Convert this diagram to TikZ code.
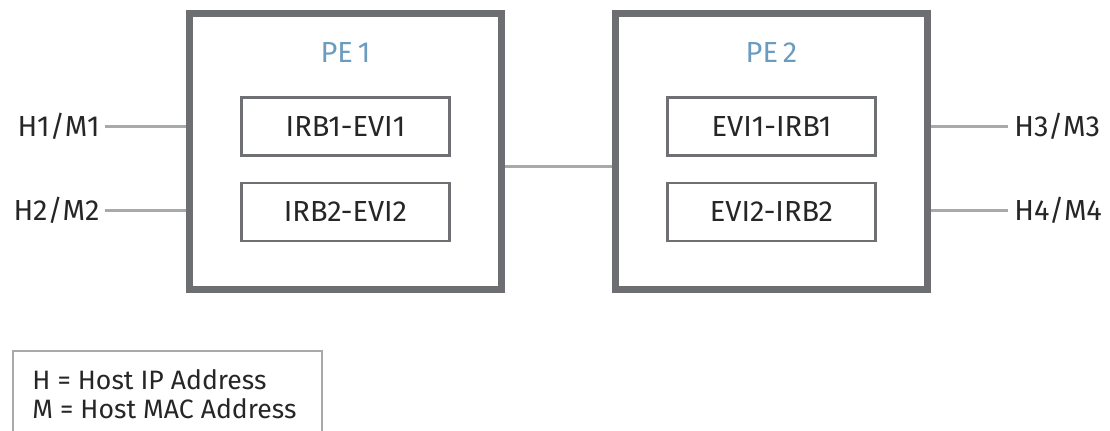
\documentclass[tikz,border=0pt]{standalone}
\usepackage{fontspec}
\setmainfont{Fira Sans}
\definecolor{pegray}{HTML}{6D6E71}
\definecolor{ingray}{HTML}{6F7073}
\definecolor{linkgray}{HTML}{A7A9AC}
\definecolor{peblue}{HTML}{6B9BBE}
\definecolor{txt}{HTML}{262626}
\begin{document}
\begin{tikzpicture}[x=0.5pt,y=-0.5pt,
  pebox/.style={draw=pegray, line width=3.5pt, minimum width=156pt, minimum height=138pt, inner sep=0pt},
  inbox/.style={draw=ingray, line width=1.25pt, minimum width=104pt, minimum height=29pt, inner sep=0pt,
                text=txt, font=\fontsize{14.5pt}{17pt}\selectfont, text height=10pt, text depth=0pt},
  lbl/.style={inner sep=0pt, text=txt, font=\fontsize{14.5pt}{17pt}\selectfont, text height=10pt, text depth=0pt},
  pelbl/.style={lbl, text=peblue},
  leg/.style={inner sep=0pt, text=txt, font=\fontsize{13.3pt}{16pt}\selectfont, text height=9.1pt, text depth=0pt, anchor=west},
  link/.style={draw=linkgray, line width=1.5pt},
  legbox/.style={draw=linkgray, line width=1pt}]
\useasboundingbox (0,0) rectangle (1110,431);
% PE boxes
\node[pebox] (pe1) at (345.5,152) {};
\node[pebox] (pe2) at (771.5,152) {};
\node[pelbl] (pe1l) at (345.5,53) {PE\,1};
\node[pelbl] (pe2l) at (771.5,53) {PE\,2};
% inner boxes
\node[inbox] (a1) at (345.5,126.5) {IRB1-EVI1};
\node[inbox] (a2) at (345.5,212) {IRB2-EVI2};
\node[inbox] (b1) at (771.5,126.5) {EVI1-IRB1};
\node[inbox] (b2) at (771.5,212) {EVI2-IRB2};
% hosts
\node[lbl, anchor=east] (h1) at (100,127) {H1/M1};
\node[lbl, anchor=east] (h2) at (100,211) {H2/M2};
\node[lbl, anchor=west] (h3) at (1014,127) {H3/M3};
\node[lbl, anchor=west] (h4) at (1014,211) {H4/M4};
% links
\draw[link] ([xshift=2.5pt]h1.east) -- (h1.east -| pe1.west);
\draw[link] ([xshift=2.5pt]h2.east) -- (h2.east -| pe1.west);
\draw[link] (h3.west -| pe2.east) -- ([xshift=-3pt]h3.west);
\draw[link] (h4.west -| pe2.east) -- ([xshift=-3pt]h4.west);
\draw[link] ([yshift=-7.5pt]pe1.east) -- ([yshift=-7.5pt]pe2.west);
% legend
\coordinate (lg) at (13,351);
\draw[legbox] (13,431) -- (lg) -- (322,351) -- (322,431);
\node[leg] (l1) at (32,380.5) {H = Host IP Address};
\node[leg] (l2) at (32,409.5) {M = Host MAC Address};
\end{tikzpicture}
\end{document}
